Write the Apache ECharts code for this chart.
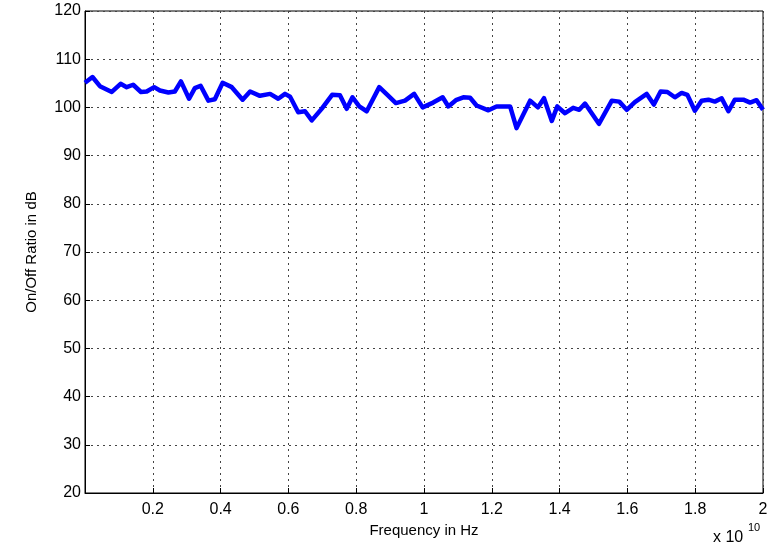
<!DOCTYPE html>
<html>
<head>
<meta charset="utf-8">
<script src="https://cdn.jsdelivr.net/npm/echarts@6/dist/echarts.min.js"></script>
<style>
  html, body { margin: 0; padding: 0; background: #fff; }
  #chart { width: 781px; height: 551px; }
</style>
</head>
<body>
<div id="chart"></div>
<script>
// frequency in units of 1e10 Hz
var freq = [0, 0.022, 0.044, 0.079, 0.105, 0.123, 0.142, 0.165, 0.182, 0.204,
  0.221, 0.246, 0.265, 0.283, 0.307, 0.324, 0.341, 0.364, 0.383, 0.406,
  0.433, 0.465, 0.487, 0.516, 0.546, 0.570, 0.590, 0.605, 0.629, 0.649,
  0.669, 0.698, 0.729, 0.752, 0.772, 0.789, 0.809, 0.831, 0.868, 0.892,
  0.917, 0.944, 0.971, 0.996, 1.027, 1.055, 1.072, 1.094, 1.116, 1.136,
  1.155, 1.190, 1.214, 1.254, 1.273, 1.313, 1.336, 1.354, 1.377, 1.393,
  1.416, 1.440, 1.458, 1.475, 1.516, 1.554, 1.576, 1.598, 1.622, 1.657,
  1.678, 1.698, 1.718, 1.740, 1.760, 1.777, 1.799, 1.819, 1.839, 1.858,
  1.878, 1.898, 1.917, 1.942, 1.962, 1.981, 2.0];
var ratio = [105.1, 106.3, 104.4, 103.2, 104.9, 104.2, 104.7, 103.2, 103.3, 104.2,
  103.5, 103.1, 103.3, 105.4, 101.8, 104.0, 104.5, 101.4, 101.7, 105.1,
  104.2, 101.6, 103.3, 102.4, 102.8, 101.8, 102.8, 102.2, 99.0, 99.2,
  97.3, 99.7, 102.6, 102.5, 99.7, 102.1, 100.2, 99.2, 104.2, 102.6,
  100.9, 101.4, 102.8, 100.0, 101.0, 102.1, 100.2, 101.5, 102.1, 102.0,
  100.4, 99.4, 100.2, 100.2, 95.7, 101.4, 100.0, 101.9, 97.2, 100.2,
  98.8, 99.9, 99.5, 100.8, 96.6, 101.4, 101.2, 99.5, 101.1, 102.8,
  100.6, 103.3, 103.2, 102.1, 103.0, 102.6, 99.3, 101.4, 101.6, 101.2,
  101.9, 99.2, 101.6, 101.6, 101.0, 101.5, 99.5];

var points = freq.map(function (f, i) { return [f, ratio[i]]; });

var font = 'Liberation Sans, Arial, sans-serif';
var gridLine = { show: true, lineStyle: { color: '#444', width: 1, type: [2, 4] } };

var myChart = echarts.init(document.getElementById('chart'));
var option = {
  animation: false,
  backgroundColor: '#fff',
  grid: {
    left: 85, right: 18, top: 11, bottom: 58,
    show: true, borderColor: '#000', borderWidth: 1, backgroundColor: '#fff'
  },
  xAxis: {
    type: 'value', min: 0, max: 2, interval: 0.2,
    name: 'Frequency in Hz', nameLocation: 'middle', nameGap: 30,
    nameTextStyle: { fontFamily: font, fontSize: 15, color: '#000' },
    axisLine: { lineStyle: { color: '#000' } },
    axisTick: { inside: true, length: 5, lineStyle: { color: '#000' } },
    axisLabel: {
      fontFamily: font, fontSize: 16, color: '#000', margin: 9,
      formatter: function (v) { return v === 0 ? '' : String(+v.toFixed(1)); }
    },
    splitLine: gridLine
  },
  yAxis: {
    type: 'value', min: 20, max: 120, interval: 10,
    name: 'On/Off Ratio in dB', nameLocation: 'middle', nameGap: 46,
    nameTextStyle: { fontFamily: font, fontSize: 15, color: '#000' },
    axisLine: { lineStyle: { color: '#000' } },
    axisTick: { inside: true, length: 5, lineStyle: { color: '#000' } },
    axisLabel: { fontFamily: font, fontSize: 16, color: '#000', margin: 4 },
    splitLine: gridLine
  },
  series: [{
    type: 'line',
    data: points,
    showSymbol: false,
    lineStyle: { color: '#0000ff', width: 4.5, join: 'round' }
  }],
  graphic: [{
    type: 'text',
    left: 713, top: 530,
    style: { text: 'x 10', font: '16px ' + font, fill: '#000' }
  }, {
    type: 'text',
    left: 748, top: 522,
    style: { text: '10', font: '11px ' + font, fill: '#000' }
  }]
};
myChart.setOption(option);
</script>
</body>
</html>
